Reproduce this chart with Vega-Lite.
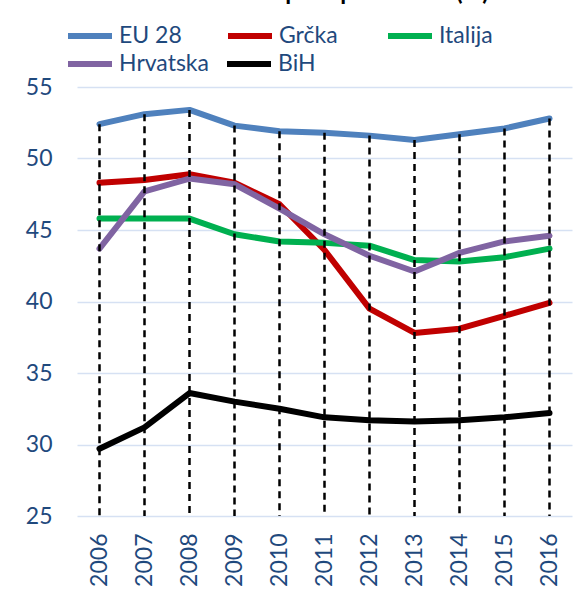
{
  "$schema": "https://vega.github.io/schema/vega-lite/v6.json",
  "autosize": "none",
  "width": 495,
  "height": 429,
  "padding": {"left": 77, "top": 87, "right": 15, "bottom": 81},
  "background": "white",
  "title": {
    "text": "Stopa zaposlenosti (%)",
    "font": "Lato",
    "fontSize": 24,
    "fontWeight": "bold",
    "color": "black",
    "anchor": "middle",
    "dx": 45,
    "dy": 13,
    "offset": 0,
    "baseline": "alphabetic"
  },
  "config": {
    "view": {"stroke": null},
    "font": "Lato",
    "axis": {"labelFont": "Lato", "labelFontSize": 23, "labelColor": "#1F497D", "domain": false, "ticks": false},
    "legend": {
      "title": null,
      "orient": "none",
      "direction": "horizontal",
      "columns": 3,
      "gridAlign": "all",
      "padding": 0,
      "symbolType": "stroke",
      "symbolSize": 1936,
      "symbolStrokeWidth": 6,
      "labelFont": "Lato",
      "labelFontSize": 23,
      "labelColor": "#1F497D",
      "labelOffset": 4
    }
  },
  "data": {
    "values": [
      {"year": "2006", "series": "EU 28", "value": 52.4},
      {"year": "2007", "series": "EU 28", "value": 53.1},
      {"year": "2008", "series": "EU 28", "value": 53.4},
      {"year": "2009", "series": "EU 28", "value": 52.3},
      {"year": "2010", "series": "EU 28", "value": 51.9},
      {"year": "2011", "series": "EU 28", "value": 51.8},
      {"year": "2012", "series": "EU 28", "value": 51.6},
      {"year": "2013", "series": "EU 28", "value": 51.3},
      {"year": "2014", "series": "EU 28", "value": 51.7},
      {"year": "2015", "series": "EU 28", "value": 52.1},
      {"year": "2016", "series": "EU 28", "value": 52.8},
      {"year": "2006", "series": "Grčka", "value": 48.3},
      {"year": "2007", "series": "Grčka", "value": 48.5},
      {"year": "2008", "series": "Grčka", "value": 48.9},
      {"year": "2009", "series": "Grčka", "value": 48.3},
      {"year": "2010", "series": "Grčka", "value": 46.8},
      {"year": "2011", "series": "Grčka", "value": 43.6},
      {"year": "2012", "series": "Grčka", "value": 39.5},
      {"year": "2013", "series": "Grčka", "value": 37.8},
      {"year": "2014", "series": "Grčka", "value": 38.1},
      {"year": "2015", "series": "Grčka", "value": 39.0},
      {"year": "2016", "series": "Grčka", "value": 39.9},
      {"year": "2006", "series": "Italija", "value": 45.8},
      {"year": "2007", "series": "Italija", "value": 45.8},
      {"year": "2008", "series": "Italija", "value": 45.8},
      {"year": "2009", "series": "Italija", "value": 44.7},
      {"year": "2010", "series": "Italija", "value": 44.2},
      {"year": "2011", "series": "Italija", "value": 44.1},
      {"year": "2012", "series": "Italija", "value": 43.9},
      {"year": "2013", "series": "Italija", "value": 42.9},
      {"year": "2014", "series": "Italija", "value": 42.8},
      {"year": "2015", "series": "Italija", "value": 43.1},
      {"year": "2016", "series": "Italija", "value": 43.7},
      {"year": "2006", "series": "Hrvatska", "value": 43.7},
      {"year": "2007", "series": "Hrvatska", "value": 47.7},
      {"year": "2008", "series": "Hrvatska", "value": 48.6},
      {"year": "2009", "series": "Hrvatska", "value": 48.2},
      {"year": "2010", "series": "Hrvatska", "value": 46.5},
      {"year": "2011", "series": "Hrvatska", "value": 44.7},
      {"year": "2012", "series": "Hrvatska", "value": 43.2},
      {"year": "2013", "series": "Hrvatska", "value": 42.1},
      {"year": "2014", "series": "Hrvatska", "value": 43.4},
      {"year": "2015", "series": "Hrvatska", "value": 44.2},
      {"year": "2016", "series": "Hrvatska", "value": 44.6},
      {"year": "2006", "series": "BiH", "value": 29.7},
      {"year": "2007", "series": "BiH", "value": 31.2},
      {"year": "2008", "series": "BiH", "value": 33.6},
      {"year": "2009", "series": "BiH", "value": 33.0},
      {"year": "2010", "series": "BiH", "value": 32.5},
      {"year": "2011", "series": "BiH", "value": 31.9},
      {"year": "2012", "series": "BiH", "value": 31.7},
      {"year": "2013", "series": "BiH", "value": 31.6},
      {"year": "2014", "series": "BiH", "value": 31.7},
      {"year": "2015", "series": "BiH", "value": 31.9},
      {"year": "2016", "series": "BiH", "value": 32.2}
    ]
  },
  "encoding": {
    "x": {
      "field": "year",
      "type": "ordinal",
      "scale": {"type": "point", "padding": 0.5},
      "axis": {"title": null, "labelAngle": -90, "labelPadding": 17, "grid": false}
    },
    "y": {
      "field": "value",
      "type": "quantitative",
      "scale": {"domain": [25, 55], "nice": false, "zero": false},
      "axis": {"title": null, "values": [25, 30, 35, 40, 45, 50, 55], "grid": true, "gridColor": "#D6E1F3", "gridWidth": 1.6, "labelPadding": 25}
    }
  },
  "layer": [
    {
      "transform": [{"filter": {"field": "series", "oneOf": ["EU 28", "Grčka", "Italija"]}}],
      "mark": {"type": "line", "strokeWidth": 6, "strokeCap": "round", "strokeJoin": "round"},
      "encoding": {
        "color": {
          "field": "series",
          "type": "nominal",
          "scale": {"domain": ["EU 28", "Grčka", "Italija"], "range": ["#4F81BD", "#C00000", "#00B050"]},
          "legend": {"legendX": -12, "legendY": -76, "columnPadding": 34}
        }
      }
    },
    {
      "transform": [{"filter": {"field": "series", "oneOf": ["Hrvatska", "BiH"]}}],
      "mark": {"type": "line", "strokeWidth": 6, "strokeCap": "round", "strokeJoin": "round"},
      "encoding": {
        "stroke": {
          "field": "series",
          "type": "nominal",
          "scale": {"domain": ["Hrvatska", "BiH"], "range": ["#8064A2", "#000000"]},
          "legend": {"legendX": -12, "legendY": -48, "columnPadding": 6}
        }
      }
    },
    {
      "transform": [{"filter": "datum.series === 'EU 28'"}],
      "mark": {"type": "rule", "color": "black", "strokeWidth": 2.5, "strokeDash": [7, 5]},
      "encoding": {
        "y2": {"datum": 25}
      }
    }
  ]
}
